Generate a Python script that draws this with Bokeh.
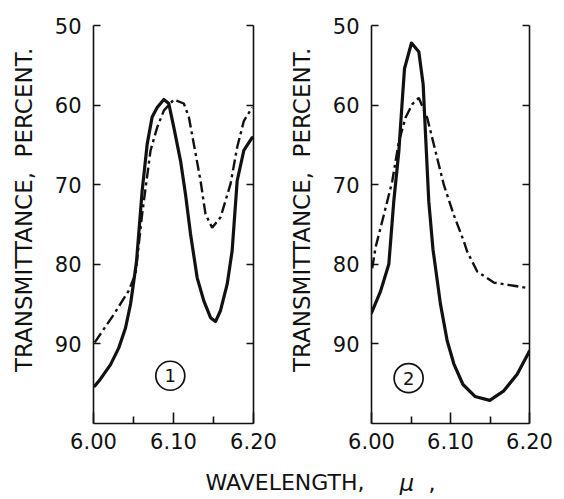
import math
from bokeh.plotting import figure
from bokeh.models import Range1d, LinearAxis, FixedTicker, Label, PrintfTickFormatter, CustomJSTickFormatter
from bokeh.layouts import row, column
from bokeh.embed import file_html
from bokeh.resources import INLINE
from bokeh.core.properties import value

# ---------------- data (wavelength in microns, transmittance in percent) ----------------
wl1_solid = [6.0016, 6.0088, 6.0213, 6.0316, 6.0400, 6.0463, 6.0504, 6.0538, 6.0608, 6.0671,
             6.0733, 6.0796, 6.0879, 6.0941, 6.1004, 6.1088, 6.1150, 6.1213, 6.1296, 6.1379,
             6.1463, 6.1525, 6.1588, 6.1671, 6.1733, 6.1796, 6.1879, 6.1983]
t1_solid = [95.3, 94.4, 92.6, 90.5, 88.0, 85.0, 82.1, 79.6, 70.8, 64.9,
            61.5, 60.3, 59.3, 59.8, 62.8, 67.0, 71.2, 76.2, 81.7, 84.6,
            86.7, 87.2, 85.8, 82.5, 78.3, 69.5, 65.7, 64.1]

wl1_dash = [6.0016, 6.0254, 6.0441, 6.0525, 6.0608, 6.0713, 6.0796, 6.0879, 6.1004, 6.1129,
            6.1192, 6.1254, 6.1338, 6.1400, 6.1483, 6.1588, 6.1713, 6.1796, 6.1879, 6.1983]
t1_dash = [89.8, 86.3, 83.3, 81.2, 73.7, 65.7, 62.8, 60.7, 59.3, 59.8,
           61.5, 64.9, 69.5, 73.7, 75.4, 74.1, 69.9, 65.3, 62.0, 60.3]

wl2_solid = [6.0000, 6.0114, 6.0219, 6.0282, 6.0346, 6.0389, 6.0418, 6.0506, 6.0599, 6.0654,
             6.0684, 6.0725, 6.0778, 6.0873, 6.0958, 6.1042, 6.1158, 6.1310, 6.1497, 6.1675,
             6.1844, 6.2000]
t2_solid = [86.1, 83.4, 80.0, 72.1, 65.8, 59.5, 55.4, 52.2, 53.3, 57.4,
            63.7, 72.1, 78.1, 85.0, 89.6, 92.5, 95.1, 96.6, 97.1, 95.9,
            93.8, 90.9]

wl2_dash = [6.0009, 6.0051, 6.0156, 6.0262, 6.0346, 6.0430, 6.0515, 6.0599, 6.0705, 6.0810,
            6.0915, 6.1042, 6.1168, 6.1211, 6.1338, 6.1548, 6.1801, 6.1991]
t2_dash = [80.5, 77.9, 73.8, 69.6, 64.6, 61.6, 59.9, 59.1, 61.6, 65.8,
           70.0, 73.8, 77.1, 78.4, 80.9, 82.3, 82.7, 83.0]

y_ticks = [50, 60, 70, 80, 90]
x_major = [6.00, 6.10, 6.20]
x_minor = [6.05, 6.15]
panel_tags = ["1", "2"]
tag_x = [6.096, 6.047]
tag_y = [94.0, 94.3]
y_title = "\u00a0\u00a0\u00a0\u00a0TRANSMITTANCE,\u00a0\u00a0PERCENT."
x_title = "WAVELENGTH,"
x_unit = "\u03bc"

FONT = "DejaVu Sans"
BLACK = "#111111"


def make_panel(frame_w, b_left, b_right, wl_s, t_s, wl_d, t_d, tag, tx, ty):
    p = figure(frame_width=frame_w, frame_height=398,
               x_range=Range1d(6.0, 6.2), y_range=Range1d(100, 50),
               output_backend="svg", toolbar_location=None,
               min_border_left=b_left, min_border_right=b_right,
               min_border_top=25, min_border_bottom=32)
    p.outline_line_color = None
    p.grid.visible = False
    p.background_fill_color = "white"
    p.border_fill_color = "white"

    xa = p.xaxis[0]
    xa.ticker = FixedTicker(ticks=x_major, minor_ticks=x_minor)
    xa.formatter = PrintfTickFormatter(format="%.2f")
    xa.major_tick_in = 11
    xa.major_tick_out = 0
    xa.minor_tick_in = 7
    xa.minor_tick_out = 0
    xa.axis_line_width = 1.6
    xa.major_tick_line_width = 1.6
    xa.minor_tick_line_width = 1.6
    xa.axis_line_color = BLACK
    xa.major_tick_line_color = BLACK
    xa.minor_tick_line_color = BLACK
    xa.major_label_standoff = 9
    xa.major_label_text_font = FONT
    xa.major_label_text_font_size = "21px"
    xa.major_label_text_color = BLACK

    ya = p.yaxis[0]
    ya.ticker = FixedTicker(ticks=y_ticks)
    ya.major_tick_in = 7
    ya.major_tick_out = 0
    ya.minor_tick_line_color = None
    ya.axis_line_width = 1.6
    ya.major_tick_line_width = 1.6
    ya.axis_line_color = BLACK
    ya.major_tick_line_color = BLACK
    ya.major_label_standoff = 12
    ya.major_label_text_font = FONT
    ya.major_label_text_font_size = "21px"
    ya.major_label_text_color = BLACK
    ya.axis_label = y_title
    ya.axis_label_text_font = FONT
    ya.axis_label_text_font_size = "23px"
    ya.axis_label_text_font_style = "normal"
    ya.axis_label_text_color = BLACK
    ya.axis_label_standoff = 15

    ra = LinearAxis(ticker=FixedTicker(ticks=y_ticks), major_tick_in=7, major_tick_out=0,
                    minor_tick_line_color=None, axis_line_width=1.6, major_tick_line_width=1.6,
                    axis_line_color=BLACK, major_tick_line_color=BLACK,
                    formatter=CustomJSTickFormatter(code="return ''"),
                    major_label_standoff=0)
    p.add_layout(ra, "right")

    p.line(wl_s, t_s, line_color=BLACK, line_width=3.2, line_join="round", line_cap="round")
    p.line(wl_d, t_d, line_color=BLACK, line_width=2.4, line_dash="11 4 3 4")

    p.scatter([tx], [ty], marker="circle", size=29, fill_color=None,
              line_color=BLACK, line_width=1.7)
    p.text([tx], [ty], text=[tag], text_align="center", text_baseline="middle",
           text_font=value(FONT), text_font_size="18px", text_color=BLACK)
    return p


p1 = make_panel(160, 93, 28, wl1_solid, t1_solid, wl1_dash, t1_dash,
                panel_tags[0], tag_x[0], tag_y[0])
p2 = make_panel(158, 90, 27, wl2_solid, t2_solid, wl2_dash, t2_dash,
                panel_tags[1], tag_x[1], tag_y[1])

p3 = figure(width=556, height=40, x_range=Range1d(0, 556), y_range=Range1d(0, 40),
            output_backend="svg", toolbar_location=None,
            x_axis_location=None, y_axis_location=None, min_border=0)
p3.outline_line_color = None
p3.grid.visible = False
p3.add_layout(Label(x=205, y=13, text=x_title, text_font=FONT, text_font_size="22px",
                    text_baseline="alphabetic", text_align="left", text_color=BLACK))
p3.add_layout(Label(x=399, y=13, text=x_unit, text_font=FONT, text_font_size="23px",
                    text_font_style="italic", text_baseline="alphabetic", text_align="left",
                    text_color=BLACK))
p3.add_layout(Label(x=428, y=13, text=",", text_font=FONT, text_font_size="22px",
                    text_baseline="alphabetic", text_align="left", text_color=BLACK))

layout = column(row(p1, p2), p3)

with open("out.html", "w") as f:
    f.write(file_html(layout, INLINE))
